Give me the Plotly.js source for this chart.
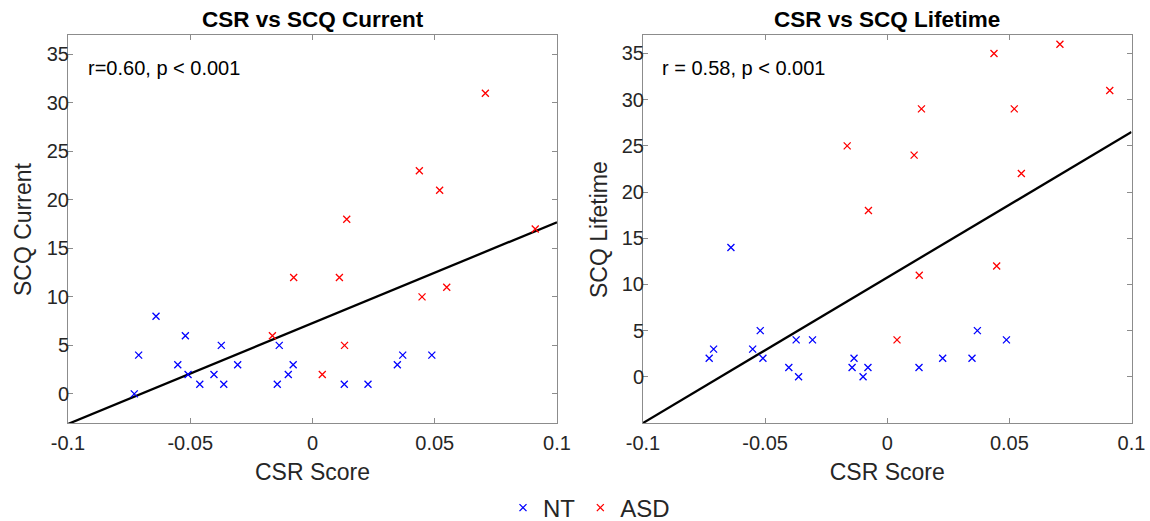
<!DOCTYPE html>
<html>
<head>
<meta charset="utf-8">
<script src="https://cdn.plot.ly/plotly-3.0.1.min.js"></script>
<style>html,body{margin:0;padding:0;background:#fff;}#chart{width:1150px;height:521px;}</style>
</head>
<body>
<div id="chart"></div>
<script>
// ---- data ----
const ntCSR = [-0.0729, -0.0711, -0.0640, -0.0551, -0.0520, -0.0509, -0.0461, -0.0403, -0.0373, -0.0363, -0.0306, -0.0144, -0.0136, -0.0099, -0.0079, 0.0130, 0.0227, 0.0347, 0.0369, 0.0488];
const ntCurrent = [0, 4, 8, 3, 6, 2, 1, 2, 5, 1, 3, 1, 5, 2, 3, 1, 1, 3, 4, 4];
const ntLifetime = [2, 3, 14, 3, 5, 2, null, 1, 4, 0, 4, 1, 2, 0, 1, 1, 2, 2, 5, 4];

const asdCSR = [-0.0164, -0.0077, 0.0040, 0.0110, 0.0131, 0.0140, 0.0437, 0.0448, 0.0520, 0.0549, 0.0707, 0.0911];
const asdCurrent = [6, 12, 2, 12, 5, 18, 23, 10, 21, 11, 31, 17];
const asdLifetime = [25, 18, 4, 24, 11, 29, 35, 12, 29, 22, 36, 31];

const fitX = [-0.1, 0.1];
const fitCurrentY = [-3.1, 17.7];
const fitLifetimeY = [-5.0, 26.5];

const xTickVals = [-0.1, -0.05, 0, 0.05, 0.1];
const xTickText = ['-0.1', '-0.05', '0', '0.05', '0.1'];
const yTickVals = [0, 5, 10, 15, 20, 25, 30, 35];
const yTickText = ['0', '5', '10', '15', '20', '25', '30', '35'];

const titles = ['CSR vs SCQ Current', 'CSR vs SCQ Lifetime'];
const statsText = ['r=0.60, p < 0.001', 'r = 0.58, p < 0.001'];
const yTitles = ['SCQ Current', 'SCQ Lifetime'];
const xTitle = 'CSR Score';
const groupNames = ['NT', 'ASD'];

// ---- styling ----
const FONT = '"Liberation Sans", Arial, Helvetica, sans-serif';
const TXT = '#262626';
const AX = '#8c8c8c';
const BLUE = '#0000ff';
const RED = '#ff0000';

function mk(color){ return {symbol: 'x-thin-open', size: 7, color: color, line: {color: color, width: 1.3}}; }

const traces = [
  {x: fitX, y: fitCurrentY, xaxis: 'x', yaxis: 'y', mode: 'lines', line: {color: '#000', width: 2.3}, showlegend: false, hoverinfo: 'skip'},
  {x: ntCSR, y: ntCurrent, xaxis: 'x', yaxis: 'y', mode: 'markers', marker: mk(BLUE), name: groupNames[0], legendgroup: 'nt'},
  {x: asdCSR, y: asdCurrent, xaxis: 'x', yaxis: 'y', mode: 'markers', marker: mk(RED), name: groupNames[1], legendgroup: 'asd'},
  {x: fitX, y: fitLifetimeY, xaxis: 'x2', yaxis: 'y2', mode: 'lines', line: {color: '#000', width: 2.3}, showlegend: false, hoverinfo: 'skip'},
  {x: ntCSR, y: ntLifetime, xaxis: 'x2', yaxis: 'y2', mode: 'markers', marker: mk(BLUE), name: groupNames[0], legendgroup: 'nt', showlegend: false},
  {x: asdCSR, y: asdLifetime, xaxis: 'x2', yaxis: 'y2', mode: 'markers', marker: mk(RED), name: groupNames[1], legendgroup: 'asd', showlegend: false}
];

const W = 1150, H = 521;
const yDom = [1 - 423 / H, 1 - 35 / H];

function xAxis(dom, anchor){
  return {
    domain: dom, anchor: anchor, range: [-0.1, 0.1],
    tickvals: xTickVals, ticktext: xTickText,
    ticks: 'inside', ticklen: 5, tickcolor: AX, tickwidth: 1,
    showline: true, linecolor: AX, linewidth: 1, mirror: 'ticks',
    showgrid: false, zeroline: false,
    tickfont: {family: FONT, size: 20, color: TXT},
    ticklabelstandoff: 2,
    title: {text: xTitle, font: {family: FONT, size: 23, color: TXT}, standoff: 10},
    automargin: false
  };
}
function yAxis(range, anchor){
  return {
    domain: yDom, anchor: anchor, range: range,
    tickvals: yTickVals, ticktext: yTickText,
    ticks: 'inside', ticklen: 5, tickcolor: AX, tickwidth: 1,
    showline: true, linecolor: AX, linewidth: 1, mirror: 'ticks',
    showgrid: false, zeroline: false,
    tickfont: {family: FONT, size: 20, color: TXT},
    ticklabelstandoff: -6,
    automargin: false
  };
}

const layout = {
  width: W, height: H,
  margin: {l: 0, r: 0, t: 0, b: 0, autoexpand: false},
  paper_bgcolor: '#fff', plot_bgcolor: '#fff',
  font: {family: FONT, color: TXT},
  xaxis: xAxis([68 / W, 557 / W], 'y'),
  yaxis: yAxis([-3, 37], 'x'),
  xaxis2: xAxis([643 / W, 1131.5 / W], 'y2'),
  yaxis2: yAxis([-5, 37], 'x2'),
  showlegend: true,
  legend: {
    orientation: 'h', x: 589 / W, xanchor: 'center', y: 1 - 508 / H, yanchor: 'middle',
    font: {family: FONT, size: 24, color: TXT}, bgcolor: 'rgba(0,0,0,0)', itemwidth: 30
  },
  annotations: [
    {text: '<b>' + titles[0] + '</b>', xref: 'paper', yref: 'paper', x: 312.5 / W, y: 1 - 19 / H, xanchor: 'center', yanchor: 'middle', showarrow: false, font: {family: FONT, size: 22.5, color: '#000'}},
    {text: '<b>' + titles[1] + '</b>', xref: 'paper', yref: 'paper', x: 887 / W, y: 1 - 19 / H, xanchor: 'center', yanchor: 'middle', showarrow: false, font: {family: FONT, size: 22.5, color: '#000'}},
    {text: statsText[0], xref: 'paper', yref: 'paper', x: 86 / W, y: 1 - 68 / H, xanchor: 'left', yanchor: 'middle', showarrow: false, font: {family: FONT, size: 20, color: '#000'}},
    {text: statsText[1], xref: 'paper', yref: 'paper', x: 660 / W, y: 1 - 68 / H, xanchor: 'left', yanchor: 'middle', showarrow: false, font: {family: FONT, size: 20, color: '#000'}},
    {text: yTitles[0], xref: 'paper', yref: 'paper', x: 23 / W, y: 1 - 229 / H, xanchor: 'center', yanchor: 'middle', textangle: -90, showarrow: false, font: {family: FONT, size: 23, color: TXT}},
    {text: yTitles[1], xref: 'paper', yref: 'paper', x: 599 / W, y: 1 - 229 / H, xanchor: 'center', yanchor: 'middle', textangle: -90, showarrow: false, font: {family: FONT, size: 23, color: TXT}}
  ]
};

Plotly.newPlot('chart', traces, layout, {displayModeBar: false, staticPlot: true});
</script>
</body>
</html>
